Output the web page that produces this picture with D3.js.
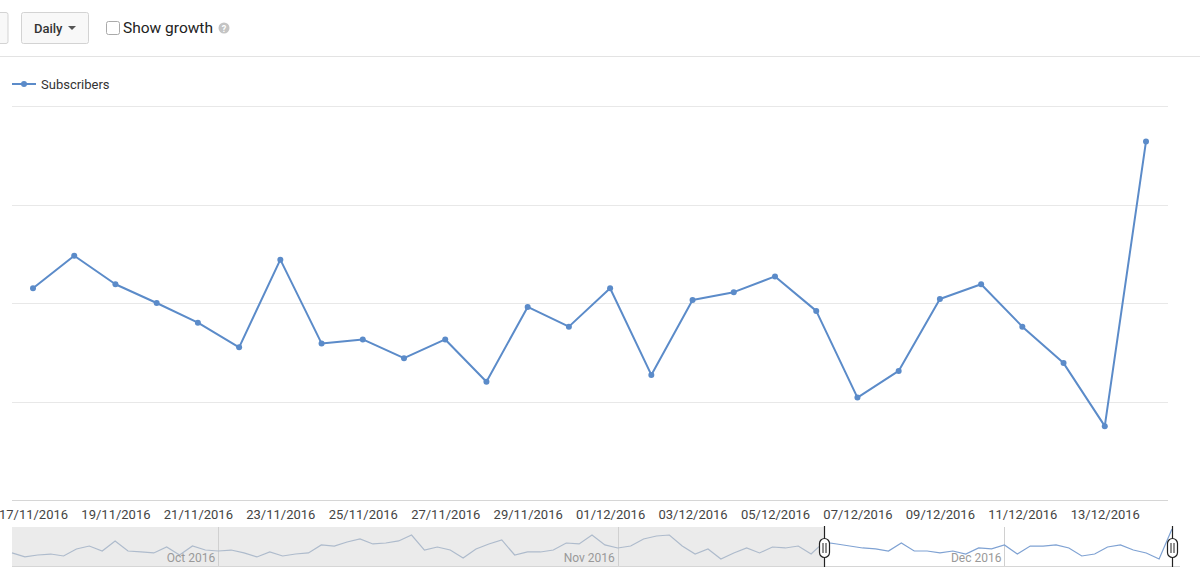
<!DOCTYPE html>
<html><head><meta charset="utf-8">
<script src="https://cdn.jsdelivr.net/npm/d3@7"></script>
<style>
html,body{margin:0;padding:0;background:#fff;}
svg{display:block;font-family:Roboto,"Noto Sans",Arial,sans-serif;}
</style></head>
<body>
<svg id="chart" width="1200" height="578"></svg>
<script>
// ---- data ----
const startDate = "2016-11-17";
const subscribers = [21.5,24.8,21.9,20.0,18.0,15.5,24.4,15.9,16.3,14.4,16.3,12.0,19.6,17.6,21.5,12.7,20.3,21.1,22.7,19.2,10.4,13.1,20.4,21.9,17.6,13.9,7.5,36.4];
const yTicks = [10,20,30,40];
const navStart = "2016-09-15";
const navValues = [13.0,9.3,11.1,12.0,10.2,16.7,19.4,14.8,24.1,14.8,13.9,13.0,18.5,11.1,19.4,15.7,
 14.8,15.7,13.0,9.3,13.9,10.2,12.0,13.0,20.4,19.4,23.1,25.9,21.3,22.2,24.1,29.6,
 15.7,18.5,15.7,8.3,16.7,21.3,25.0,11.1,13.9,13.9,15.7,22.2,21.3,29.6,20.4,17.6,
 19.4,25.9,28.7,29.6,19.4,12.0,16.7,7.4,13.0,17.6,13.0,18.5,17.6,19.4,12.0,
 23.1,21.3,19.4,17.6,16.7,14.8,22.2,14.8,14.8,13.0,14.8,12.0,17.6,16.7,20.4,12.0,
 19.4,19.4,20.4,17.6,10.2,12.0,18.5,20.4,15.7,13.0,7.4,35.2];
const navMonths = ["2016-10-01","2016-11-01","2016-12-01"];
const legendLabel = "Subscribers";
const periodLabel = "Daily";
const growthLabel = "Show growth";

// ---- build ----
const parse = d3.utcParse("%Y-%m-%d");
const day = 864e5;
const s0 = parse(startDate);
const mainData = subscribers.map((v,i)=>({date:new Date(+s0 + i*day), v}));
const n0 = parse(navStart);
const navData = navValues.map((v,i)=>({date:new Date(+n0 + i*day), v}));

const svg = d3.select("#chart");
const blue = "#5b8bc9";

// top controls
svg.append("rect").attr("x",-10).attr("y",12.5).attr("width",18).attr("height",31).attr("rx",2)
  .attr("fill","#f8f8f8").attr("stroke","#d3d3d3");
svg.append("rect").attr("x",21.5).attr("y",12.5).attr("width",67).attr("height",31).attr("rx",2)
  .attr("fill","#f8f8f8").attr("stroke","#d3d3d3");
svg.append("text").attr("x",34).attr("y",33).attr("font-size",13).attr("font-weight",500)
  .attr("fill","#333").text(periodLabel);
svg.append("path").attr("d","M68,26 L76,26 L72,30 Z").attr("fill","#555");
svg.append("rect").attr("x",106.5).attr("y",21.5).attr("width",13).attr("height",13).attr("rx",2)
  .attr("fill","#fff").attr("stroke","#aaa");
svg.append("text").attr("x",123).attr("y",33).attr("font-size",15.5).attr("fill","#222").text(growthLabel);
svg.append("circle").attr("cx",224).attr("cy",28).attr("r",5.5).attr("fill","#c4c4c4");
svg.append("text").attr("x",224).attr("y",31.5).attr("text-anchor","middle").attr("font-size",9)
  .attr("font-weight",700).attr("fill","#fff").text("?");
svg.append("line").attr("x1",0).attr("x2",1200).attr("y1",56.5).attr("y2",56.5).attr("stroke","#e3e3e3");

// legend
svg.append("line").attr("x1",12).attr("x2",36).attr("y1",84).attr("y2",84).attr("stroke",blue).attr("stroke-width",2);
svg.append("circle").attr("cx",24).attr("cy",84).attr("r",3).attr("fill",blue);
svg.append("text").attr("x",41).attr("y",88.5).attr("font-size",13).attr("fill","#333").text(legendLabel);

// main chart
const x = d3.scaleUtc().domain([mainData[0].date, mainData[mainData.length-1].date]).range([33,1146]);
const y = d3.scaleLinear().domain([0,40]).range([500,106]);

svg.append("g").selectAll("line").data(yTicks).join("line")
  .attr("x1",12).attr("x2",1168)
  .attr("y1",d=>Math.round(y(d))+0.5).attr("y2",d=>Math.round(y(d))+0.5)
  .attr("stroke","#e8e8e8");

const xAxis = d3.axisBottom(x)
  .tickValues(mainData.filter((d,i)=>i%2===0 && i<27).map(d=>d.date))
  .tickFormat(d3.utcFormat("%d/%m/%Y")).tickSize(0).tickPadding(0);
const gx = svg.append("g").attr("transform","translate(0,500.5)").call(xAxis);
gx.select(".domain").remove();
gx.append("line").attr("x1",12).attr("x2",1168).attr("y1",0).attr("y2",0).attr("stroke","#d6d6d6");
gx.selectAll("text").attr("y",9).attr("font-size",13).attr("fill","#444")
  .attr("font-family","Roboto,'Noto Sans',Arial,sans-serif");

const line = d3.line().x(d=>x(d.date)).y(d=>y(d.v));
svg.append("path").datum(mainData).attr("d",line).attr("fill","none")
  .attr("stroke",blue).attr("stroke-width",2).attr("stroke-linejoin","round");
svg.append("g").selectAll("circle").data(mainData).join("circle")
  .attr("cx",d=>x(d.date)).attr("cy",d=>y(d.v)).attr("r",3).attr("fill",blue);

// navigator
const nx = d3.scaleUtc().domain([navData[0].date, navData[navData.length-1].date]).range([12,1172]);
const ny = d3.scaleLinear().domain([0,37]).range([567,527]);
const selX0 = nx(mainData[0].date), selX1 = nx(mainData[mainData.length-1].date);
const navTop = 527, navBot = 566;

svg.append("rect").attr("x",12).attr("y",navTop).attr("width",selX0-12).attr("height",navBot-navTop).attr("fill","#ebebeb");
const defs = svg.append("defs");
defs.append("clipPath").attr("id","cUn").append("rect").attr("x",0).attr("y",navTop-5).attr("width",selX0).attr("height",60);
defs.append("clipPath").attr("id","cSel").append("rect").attr("x",selX0).attr("y",navTop-5).attr("width",400).attr("height",60);

svg.append("g").selectAll("line").data(navMonths.map(parse)).join("line")
  .attr("x1",d=>Math.round(nx(d))+0.5).attr("x2",d=>Math.round(nx(d))+0.5)
  .attr("y1",navTop).attr("y2",navBot).attr("stroke","#d0d0d0");

const nline = d3.line().x(d=>nx(d.date)).y(d=>ny(d.v));
svg.append("path").datum(navData).attr("d",nline).attr("fill","none").attr("stroke","#aebbcc")
  .attr("stroke-width",1.2).attr("clip-path","url(#cUn)");
svg.append("path").datum(navData).attr("d",nline).attr("fill","none").attr("stroke","#7fa2d3")
  .attr("stroke-width",1.2).attr("clip-path","url(#cSel)");

svg.append("g").selectAll("text").data(navMonths.map(parse)).join("text")
  .attr("x",d=>nx(d)-3).attr("y",562).attr("text-anchor","end").attr("font-size",12)
  .attr("fill","#999").text(d3.utcFormat("%b %Y"));

svg.append("line").attr("x1",12).attr("x2",1180).attr("y1",navBot+0.5).attr("y2",navBot+0.5).attr("stroke","#d6d6d6");

// handles
[selX0, selX1].forEach(hx=>{
  const g = svg.append("g").attr("transform",`translate(${Math.round(hx)+0.5},0)`);
  g.append("line").attr("x1",0).attr("x2",0).attr("y1",navTop-1).attr("y2",navBot+1).attr("stroke","#222").attr("stroke-width",1.2);
  g.append("rect").attr("x",-5).attr("y",538.5).attr("width",10).attr("height",19).attr("rx",5)
    .attr("fill","#fff").attr("stroke","#222").attr("stroke-width",1.2);
  g.append("line").attr("x1",-1.5).attr("x2",-1.5).attr("y1",543).attr("y2",553).attr("stroke","#222");
  g.append("line").attr("x1",1.5).attr("x2",1.5).attr("y1",543).attr("y2",553).attr("stroke","#222");
});
</script>
</body></html>
